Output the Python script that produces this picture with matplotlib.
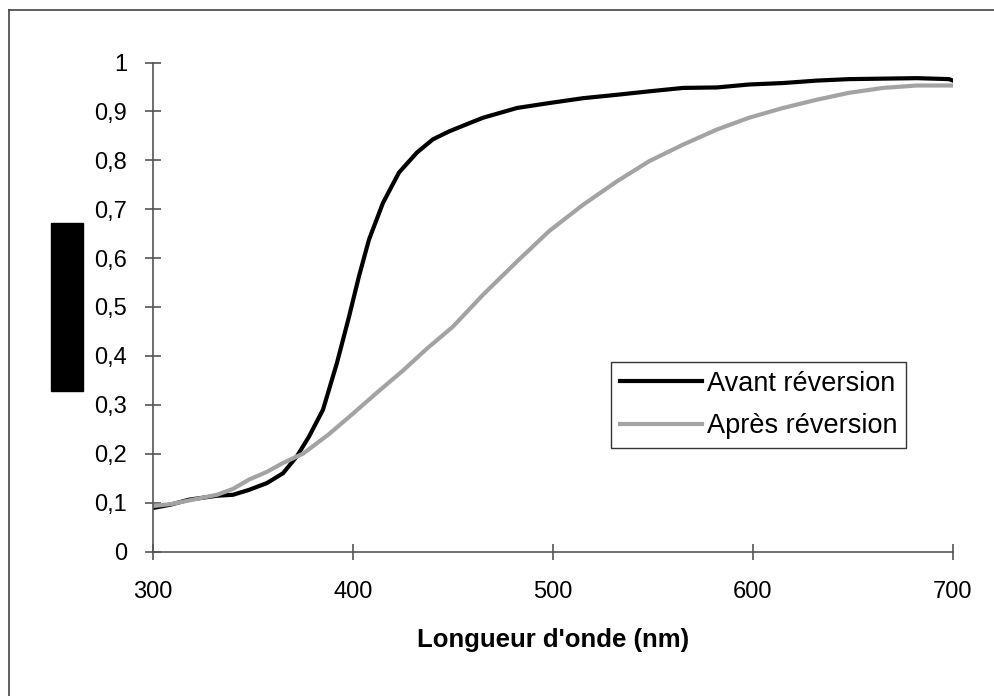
import matplotlib
matplotlib.use("Agg")
import matplotlib.pyplot as plt
from matplotlib.lines import Line2D
from matplotlib.patches import Rectangle
from matplotlib.ticker import FuncFormatter

plt.rcParams['font.family'] = ['Liberation Sans', 'DejaVu Sans']

# Données
wl_avant = [300, 309, 318, 332, 340, 348, 357, 365, 372, 378, 385, 392, 398, 403, 408,
            415, 423, 432, 440, 448, 457, 465, 482, 498, 515, 532, 548, 565, 582, 598,
            615, 632, 648, 665, 682, 698, 700]
avant = [0.089, 0.096, 0.106, 0.114, 0.116, 0.126, 0.14, 0.16, 0.195, 0.235, 0.29, 0.386,
         0.48, 0.563, 0.638, 0.713, 0.775, 0.816, 0.843, 0.859, 0.874, 0.887, 0.907, 0.917,
         0.927, 0.934, 0.941, 0.948, 0.949, 0.955, 0.958, 0.963, 0.966, 0.967, 0.968,
         0.966, 0.963]

wl_apres = [300, 309, 320, 332, 340, 348, 357, 365, 375, 388, 400, 412, 425, 437, 450,
            465, 482, 498, 515, 532, 548, 565, 582, 598, 615, 632, 648, 665, 682, 700]
apres = [0.093, 0.097, 0.106, 0.116, 0.128, 0.147, 0.163, 0.181, 0.2, 0.24, 0.282, 0.325,
         0.37, 0.415, 0.46, 0.525, 0.593, 0.655, 0.709, 0.757, 0.798, 0.832, 0.863,
         0.887, 0.907, 0.924, 0.938, 0.948, 0.953, 0.953]

legend_labels = ["Avant réversion", "Après réversion"]

fig = plt.figure(figsize=(9.95, 6.96), dpi=100)
ax = fig.add_axes([153 / 995, 1 - 551.5 / 696, 800 / 995, 489 / 696])

ax.plot(wl_avant, avant, color='black', lw=3.0, label=legend_labels[0])
ax.plot(wl_apres, apres, color='#a3a3a3', lw=3.0, label=legend_labels[1])

ax.set_xlim(300, 700)
ax.set_ylim(0, 1)
ax.set_xticks([300, 400, 500, 600, 700])
ax.set_yticks([i / 10 for i in range(11)])
ax.yaxis.set_major_formatter(FuncFormatter(lambda v, p: f"{v:g}".replace('.', ',')))

for s in ['top', 'right']:
    ax.spines[s].set_visible(False)
for s in ['left', 'bottom']:
    ax.spines[s].set_color('#555555')
    ax.spines[s].set_linewidth(1.2)
ax.tick_params(direction='inout', length=11, width=1.2, color='#555555', labelsize=17)
ax.tick_params(axis='x', pad=16)
ax.tick_params(axis='y', pad=13)

ax.set_xlabel("Longueur d'onde (nm)", fontsize=18.5, fontweight='bold', labelpad=18)

leg = ax.legend(loc='upper left', bbox_to_anchor=(0.573, 0.388), borderaxespad=0,
                fontsize=19.5, frameon=True, fancybox=False, handlelength=3.0,
                handletextpad=0.2, borderpad=0.33, labelspacing=0.62)
leg.get_frame().set_edgecolor('black')
leg.get_frame().set_linewidth(1.0)

# bloc noir (étiquette masquée)
fig.add_artist(Rectangle((51 / 995, 1 - 391 / 696), 32 / 995, 168 / 696,
                         transform=fig.transFigure, color='black'))
# cadre extérieur
fig.add_artist(Line2D([9 / 995, 9 / 995], [0, 1 - 10 / 696], transform=fig.transFigure,
                      color='#444444', lw=1.2))
fig.add_artist(Line2D([9 / 995, 1], [1 - 10 / 696, 1 - 10 / 696], transform=fig.transFigure,
                      color='#444444', lw=1.2))

fig.savefig("out.png", dpi=100)
